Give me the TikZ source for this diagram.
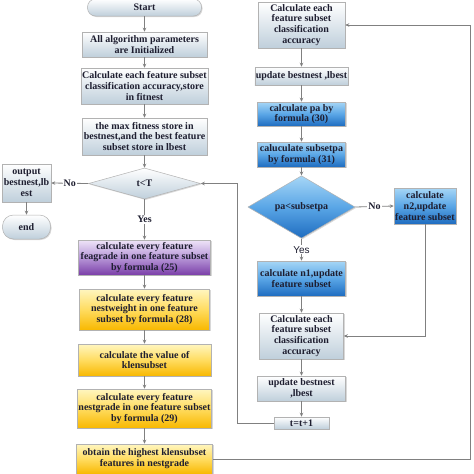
\documentclass[tikz,border=0pt]{standalone}
\usepackage{fontspec}
\setmainfont{Liberation Serif}
\setsansfont{Liberation Sans}
\usetikzlibrary{shapes.geometric,arrows.meta,shadows}
\definecolor{txt}{HTML}{1E1E30}
\definecolor{grayB}{HTML}{BFCFDB}
\definecolor{blueT}{HTML}{A6D6F6}
\definecolor{blueM}{HTML}{5AA6E6}
\definecolor{blueB}{HTML}{1E6CC0}
\definecolor{purT}{HTML}{EEE4F8}
\definecolor{purM}{HTML}{B898D8}
\definecolor{purB}{HTML}{7A3EA8}
\definecolor{yelT}{HTML}{FFF6C0}
\definecolor{yelM}{HTML}{FFDC60}
\definecolor{yelB}{HTML}{F8B800}
\definecolor{lnc}{HTML}{808080}
\begin{document}
\begin{tikzpicture}[x=1pt,y=-1pt,
  base/.style={draw=gray!60, line width=0.5pt, align=center, inner sep=1pt,
    font=\bfseries\fontsize{10}{10.8}\selectfont, text=txt,
    drop shadow={shadow xshift=1pt, shadow yshift=-1pt, opacity=0.3}},
  graybox/.style={base, rectangle, top color=white, bottom color=grayB},
  bluebox/.style={base, rectangle, top color=blueT, bottom color=blueB, middle color=blueM},
  purbox/.style={base, rectangle, top color=purT, bottom color=purB, middle color=purM},
  yelbox/.style={base, rectangle, top color=yelT, bottom color=yelB, middle color=yelM},
  pill/.style={graybox, rounded corners=8pt},
  sz/.style 2 args={minimum width=#1pt, minimum height=#2pt},
  line/.style={draw=lnc, line width=0.8pt, -{Stealth[length=4pt,width=3.5pt]}},
  plain/.style={draw=lnc, line width=0.8pt},
  lab/.style={font=\bfseries\fontsize{10}{12}\selectfont, text=txt, fill=white, inner sep=1pt},
  labs/.style={font=\sffamily\fontsize{10}{12}\selectfont, text=txt, fill=white, inner sep=1pt}
]
\useasboundingbox (0,0) rectangle (474,474);
\fill[white] (0,0) rectangle (474,474);

% left column
\node[pill, sz={114}{17}] (start) at (144.5,7.5) {Start};
\node[graybox, sz={125}{25}] (init) at (144.5,44.5) {All algorithm parameters\\are Initialized};
\node[graybox, sz={125}{36}] (calc1) at (144.5,86) {Calculate each feature subset\\classification accuracy,store\\in fitnest};
\node[graybox, sz={125}{37}] (maxfit) at (144.5,136.5) {the max fitness store in\\bestnest,and the best feature\\subset store in lbest};
\node[base, diamond, top color=white, bottom color=grayB, sz={112}{31}, inner sep=0pt] (d1) at (144.5,183.5) {t<T};
\node[graybox, sz={49}{38}] (output) at (26.5,183) {output\\bestnest,lb\\est};
\node[pill, sz={48}{24}, rounded corners=11pt] (end) at (26.5,227) {end};
\node[purbox, sz={132}{35}] (fea) at (144.5,257.5) {calculate every feature\\feagrade in one feature subset\\by formula (25)};
\node[yelbox, sz={130}{41}] (nw) at (144.5,309.5) {calculate every feature\\nestweight in one feature\\subset by formula (28)};
\node[yelbox, sz={133}{32}] (klen) at (144.5,360) {calculate the value of\\klensubset};
\node[yelbox, sz={133}{39}] (ng) at (144.5,408.5) {calculate every feature\\nestgrade in one feature subset\\by formula (29)};
\node[yelbox, sz={136}{30}] (obtain) at (144.5,459) {obtain the highest klensubset\\features in nestgrade};

% right column
\node[graybox, sz={87}{46}] (rc1) at (301.5,25) {Calculate each\\feature subset\\classification\\accuracy};
\node[graybox, sz={92}{18}] (rup1) at (301.5,76) {update bestnest ,lbest};
\node[bluebox, sz={88}{24}] (rpa) at (301.5,114) {calculate pa by\\formula (30)};
\node[bluebox, sz={88}{25}] (rsub) at (301.5,154.5) {caluculate subsetpa\\by formula (31)};
\node[base, diamond, top color=blueT, bottom color=blueB, middle color=blueM, sz={107}{47}, inner sep=0pt] (d2) at (301.5,207) {pa<subsetpa};
\node[bluebox, sz={62}{36}] (n2) at (425,206) {calculate\\n2,update\\feature subset};
\node[bluebox, sz={88}{35}] (n1) at (301.5,278.5) {calculate n1,update\\feature subset};
\node[graybox, sz={84}{46}] (rc2) at (301.5,336) {Calculate each\\feature subset\\classification\\accuracy};
\node[graybox, sz={88}{25}] (rup2) at (301.5,388.5) {update bestnest\\,lbest};
\node[graybox, sz={55}{12}, inner sep=0pt] (tt) at (301.5,423) {t=t+1};

\coordinate (rx) at (470,0);
\coordinate (lx) at (237,0);

% left connectors
\draw[line] (start) -- (init);
\draw[line] (init) -- (calc1);
\draw[line] (calc1) -- (maxfit);
\draw[line] (maxfit) -- (d1);
\draw[line] (d1.south) -- node[lab]{Yes} (fea.north);
\draw[line] (d1.west) -- node[lab]{No} (output.east);
\draw[line] (output) -- (end);
\draw[line] (fea) -- (nw);
\draw[line] (nw) -- (klen);
\draw[line] (klen) -- (ng);
\draw[line] (ng) -- (obtain);

% right connectors
\draw[line] (rc1) -- (rup1);
\draw[line] (rup1) -- (rpa);
\draw[line] (rpa) -- (rsub);
\draw[line] (rsub) -- (d2);
\draw[line] (d2.south) -- node[labs]{Yes} (n1.north);
\draw[line] (d2.east) -- node[lab]{No} (n2.west);
\draw[line] (n2.south) |- (rc2.east);
\draw[line] (n1) -- (rc2);
\draw[line] (rc2) -- (rup2);
\draw[line] (rup2) -- (tt);

% loops
\draw[line] (obtain.east) -- (obtain.east -| rx) |- (rc1.east);
\draw[line] (tt.west) -- (tt.west -| lx) |- (d1.east);
\end{tikzpicture}
\end{document}
